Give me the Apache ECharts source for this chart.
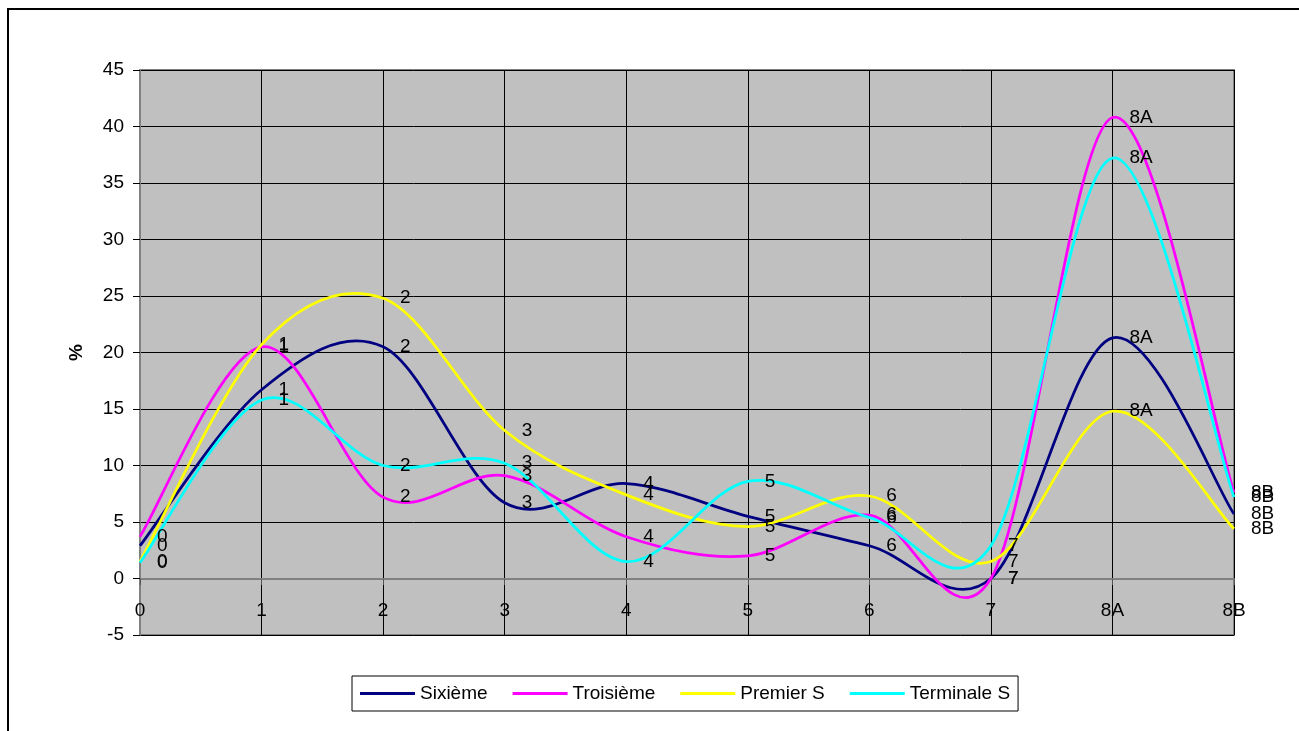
<!DOCTYPE html>
<html>
<head>
<meta charset="utf-8">
<script src="https://cdn.jsdelivr.net/npm/echarts@6/dist/echarts.min.js"></script>
<style>
  html, body { margin: 0; padding: 0; background: #fff; }
  #chart { width: 1299px; height: 731px; }
</style>
</head>
<body>
<div id="chart"></div>
<script>
// Stages (categories on the horizontal axis)
const categories = ['0', '1', '2', '3', '4', '5', '6', '7', '8A', '8B'];

// Percentages per class level
const sixieme    = [2.9, 16.7, 20.5, 6.7, 8.4, 5.5, 2.9, 0.0, 21.3, 5.7];
const troisieme  = [3.7, 20.5, 7.2, 9.1, 3.7, 2.0, 5.6, 0.0, 40.8, 7.6];
const premierS   = [1.5, 20.7, 24.8, 13.1, 7.4, 4.6, 7.3, 1.5, 14.8, 4.4];
const terminaleS = [1.4, 15.8, 10.0, 10.2, 1.5, 8.6, 5.4, 2.9, 37.2, 7.2];

const seriesNames = ['Sixième', 'Troisième', 'Premier S', 'Terminale S'];
const seriesData = [sixieme, troisieme, premierS, terminaleS];
const seriesColors = ['#000080', '#FF00FF', '#FFFF00', '#00FFFF'];

const FONT = '"Liberation Sans", Arial, sans-serif';

const chart = echarts.init(document.getElementById('chart'), null, { renderer: 'canvas' });

// Cardinal (Catmull-Rom style) smoothing through the projected points
function smoothPath(pts) {
  let d = 'M' + pts[0][0] + ',' + pts[0][1];
  for (let i = 0; i < pts.length - 1; i++) {
    const p0 = pts[Math.max(i - 1, 0)];
    const p1 = pts[i];
    const p2 = pts[i + 1];
    const p3 = pts[Math.min(i + 2, pts.length - 1)];
    const c1x = p1[0] + (p2[0] - p0[0]) / 6;
    const c1y = p1[1] + (p2[1] - p0[1]) / 6;
    const c2x = p2[0] - (p3[0] - p1[0]) / 6;
    const c2y = p2[1] - (p3[1] - p1[1]) / 6;
    d += ' C' + c1x + ',' + c1y + ' ' + c2x + ',' + c2y + ' ' + p2[0] + ',' + p2[1];
  }
  return d;
}

// Smoothed curves, one per class level
const curveSeries = seriesData.map((values, i) => ({
  type: 'custom',
  name: 'curve-' + i,
  coordinateSystem: 'cartesian2d',
  data: [[0, values[0]]],
  silent: true,
  z: 3,
  renderItem: function (params, api) {
    const pts = values.map((v, k) => api.coord([k, v]));
    return {
      type: 'path',
      shape: { pathData: smoothPath(pts) },
      style: { fill: 'none', stroke: seriesColors[i], lineWidth: 2.75 }
    };
  }
}));

// Point labels (stage names) and legend entries
const labelSeries = seriesNames.map((name, i) => ({
  name: name,
  type: 'line',
  data: seriesData[i],
  symbol: 'circle',
  symbolSize: 2,
  showSymbol: true,
  lineStyle: { color: seriesColors[i], width: 0 },
  itemStyle: { color: 'rgba(0,0,0,0)', borderWidth: 0 },
  label: {
    show: true,
    position: 'right',
    distance: 16,
    color: '#000',
    fontFamily: FONT,
    fontSize: 19,
    formatter: p => categories[p.dataIndex]
  },
  labelLayout: { hideOverlap: false },
  z: 4
}));

chart.setOption({
  animation: false,
  backgroundColor: '#fff',
  textStyle: { fontFamily: FONT },
  graphic: [{
    type: 'rect',
    shape: { x: 8, y: 9, width: 1400, height: 800 },
    style: { fill: 'none', stroke: '#000', lineWidth: 2 },
    silent: true
  }],
  grid: {
    left: 140, right: 65, top: 70, bottom: 96,
    show: true,
    backgroundColor: '#C0C0C0',
    borderColor: '#808080',
    borderWidth: 2
  },
  legend: {
    data: seriesNames.map((n, i) => ({ name: n, icon: 'rect', itemStyle: { color: seriesColors[i], opacity: 1 } })),
    left: 352,
    top: 676,
    orient: 'horizontal',
    itemWidth: 55,
    itemHeight: 3,
    itemGap: 25,
    padding: [8, 8, 8, 8],
    borderColor: '#000',
    borderWidth: 1,
    textStyle: { color: '#000', fontSize: 19, fontFamily: FONT }
  },
  xAxis: {
    type: 'category',
    data: categories,
    boundaryGap: false,
    offset: -56,
    axisLine: { onZero: false, lineStyle: { color: '#808080', width: 2 } },
    axisTick: { show: true, length: 6, lineStyle: { color: '#555' } },
    axisLabel: { color: '#000', fontSize: 19, fontFamily: FONT, margin: 22 },
    splitLine: { show: true, lineStyle: { color: '#000', width: 1 } }
  },
  yAxis: {
    type: 'value',
    min: -5,
    max: 45,
    interval: 5,
    name: '%',
    nameLocation: 'middle',
    nameRotate: 90,
    nameGap: 54,
    nameTextStyle: { color: '#000', fontSize: 19, fontWeight: 'bold', fontFamily: FONT },
    axisLine: { show: true, lineStyle: { color: '#808080', width: 2 } },
    axisTick: { show: true, length: 7, lineStyle: { color: '#000' } },
    axisLabel: { color: '#000', fontSize: 19, fontFamily: FONT, margin: 16 },
    splitLine: { show: true, lineStyle: { color: '#000', width: 1 } }
  },
  series: labelSeries.concat(curveSeries)
});
</script>
</body>
</html>
